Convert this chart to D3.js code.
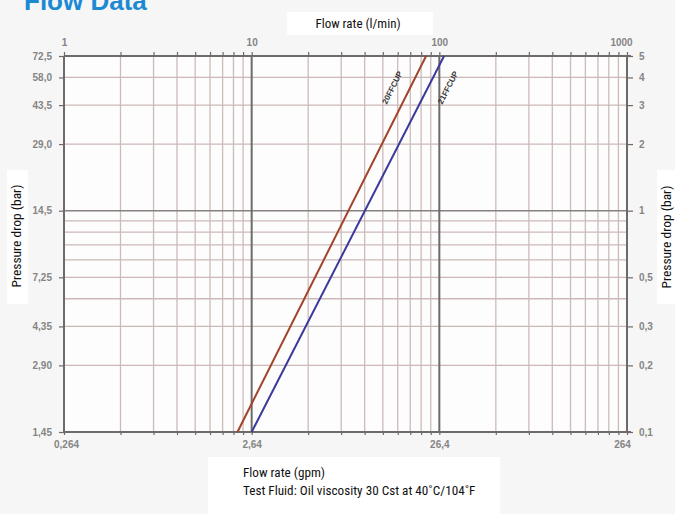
<!DOCTYPE html>
<html><head><meta charset="utf-8">
<script src="https://cdn.jsdelivr.net/npm/d3@7"></script>
<style>
html,body{margin:0;padding:0;background:#f6f6f6;}
svg{display:block;}
</style></head>
<body>
<svg id="c" width="675" height="514"></svg>
<script>
// ---- data ----
const flowMajor = [1, 10, 100, 1000];
const flowTopLabels = ["1", "10", "100", "1000"];
const gpmLabels = ["0,264", "2,64", "26,4", "264"];
const flowMinor = [2,3,4,5,6,7,8,9,20,30,40,50,60,70,80,90,200,300,400,500,600,700,800,900];
const barGrid = [0.1,0.2,0.3,0.4,0.5,0.6,0.7,0.8,0.9,1,2,3,4,5];
const barTicks = [5, 4, 3, 2, 1, 0.5, 0.3, 0.2, 0.1];
const barLabels = ["5", "4", "3", "2", "1", "0,5", "0,3", "0,2", "0,1"];
const psiLabels = ["72,5", "58,0", "43,5", "29,0", "14,5", "7,25", "4,35", "2,90", "1,45"];
const seriesNames = ["20FFCUP", "21FFCUP"];
const seriesFlow = [[8.4, 85], [10, 106]];
const seriesBar = [[0.1, 5], [0.1, 5]];
const seriesColors = ["#a3432c", "#3b3a9c"];

// ---- layout ----
const svg = d3.select("#c");
const L = 64, R = 627, T = 56, B = 432;
const x = d3.scaleLog().domain([1, 1000]).range([L, R]);
const y = d3.scaleLog().domain([0.1, 5]).range([B, T]);

// title (clipped at top, as in the source)
svg.append("text").attr("x", 24).attr("y", 10)
  .attr("font-family", "Liberation Sans, Arial, sans-serif").attr("font-weight", "bold")
  .attr("font-size", 26).attr("fill", "#1b8ad3").text("Flow Data");

// plot background
svg.append("rect").attr("x", L).attr("y", T).attr("width", R - L).attr("height", B - T).attr("fill", "#fdfdfd");

const grid = svg.append("g");
grid.selectAll("line.vm").data(flowMinor).join("line")
  .attr("x1", d => x(d)).attr("x2", d => x(d)).attr("y1", T).attr("y2", B)
  .attr("stroke", "#cbbcba").attr("stroke-width", 1.3);
grid.selectAll("line.h").data(barGrid).join("line")
  .attr("x1", L).attr("x2", R).attr("y1", d => y(d)).attr("y2", d => y(d))
  .attr("stroke", d => (d === 1 ? "#8a8080" : "#cbb9b7")).attr("stroke-width", d => (d === 1 ? 1.6 : 1.3));
grid.selectAll("line.vM").data(flowMajor).join("line")
  .attr("x1", d => x(d)).attr("x2", d => x(d)).attr("y1", T).attr("y2", B)
  .attr("stroke", "#6f6a6a").attr("stroke-width", 2);
grid.selectAll("line.hb").data([0.1, 5]).join("line")
  .attr("x1", L).attr("x2", R + 4).attr("y1", d => y(d)).attr("y2", d => y(d))
  .attr("stroke", "#6f6a6a").attr("stroke-width", 2);

const tickFont = "Liberation Sans, Arial, sans-serif";
function styleAxis(g) {
  g.select(".domain").remove();
  g.selectAll(".tick line").attr("stroke", "#6f6a6a").attr("stroke-width", 1.2);
  g.selectAll(".tick text").attr("fill", "#858585").attr("font-family", tickFont)
    .attr("font-size", 10).attr("font-weight", "bold");
}
const allFlow = flowMajor.concat(flowMinor);
svg.append("g").attr("transform", `translate(0,${T})`)
  .call(d3.axisTop(x).tickValues(allFlow).tickSize(4).tickPadding(6)
    .tickFormat(d => { const i = flowMajor.indexOf(d); return i >= 0 ? flowTopLabels[i] : ""; }))
  .call(styleAxis)
  .call(g => g.selectAll(".tick text").attr("dx", d => d === 1000 ? -6 : 0));
svg.append("g").attr("transform", `translate(0,${B})`)
  .call(d3.axisBottom(x).tickValues(allFlow).tickSize(3).tickPadding(6)
    .tickFormat(d => { const i = flowMajor.indexOf(d); return i >= 0 ? gpmLabels[i] : ""; }))
  .call(styleAxis)
  .call(g => g.selectAll(".tick text").attr("dx", d => d === 1 ? 2 : (d === 1000 ? -5 : 0)));
svg.append("g").attr("transform", `translate(${L},0)`)
  .call(d3.axisLeft(y).tickValues(barTicks).tickSize(5).tickPadding(7)
    .tickFormat((d, i) => psiLabels[i]))
  .call(styleAxis);
svg.append("g").attr("transform", `translate(${R},0)`)
  .call(d3.axisRight(y).tickValues(barTicks).tickSize(6).tickPadding(6)
    .tickFormat((d, i) => barLabels[i]))
  .call(styleAxis);

// series
const line = d3.line().x(d => x(d[0])).y(d => y(d[1]));
seriesFlow.forEach((fl, i) => {
  const pts = fl.map((f, j) => [f, seriesBar[i][j]]);
  svg.append("path").attr("d", line(pts)).attr("fill", "none")
    .attr("stroke", seriesColors[i]).attr("stroke-width", 2);
});
// series labels, beside each line
const labelBar = 3.6;
const labelOffset = [-18, 20];
seriesNames.forEach((n, i) => {
  const fl = seriesFlow[i], br = seriesBar[i];
  const x0 = x(fl[0]), x1 = x(fl[1]), y0 = y(br[0]), y1 = y(br[1]);
  const yy = y(labelBar);
  const xx = x0 + (x1 - x0) * (yy - y0) / (y1 - y0);
  const ang = Math.atan2(y1 - y0, x1 - x0) * 180 / Math.PI;
  svg.append("text")
    .attr("transform", `translate(${xx + labelOffset[i]},${yy}) rotate(${ang})`)
    .attr("text-anchor", "middle").attr("dy", "0.35em")
    .attr("font-family", tickFont).attr("font-weight", "bold").attr("font-size", 8)
    .attr("fill", "#333").text(n);
});

// axis title boxes
const titleFont = "'Liberation Sans Narrow', 'Roboto Condensed', 'Arial Narrow', sans-serif";
svg.append("rect").attr("x", 287).attr("y", 12).attr("width", 146).attr("height", 23).attr("fill", "#ffffff");
svg.append("text").attr("x", 358).attr("y", 28).attr("text-anchor", "middle")
  .attr("font-family", titleFont).attr("font-size", 13).attr("fill", "#111").text("Flow rate (l/min)");

svg.append("rect").attr("x", 7).attr("y", 170).attr("width", 21).attr("height", 134).attr("fill", "#ffffff");
svg.append("text").attr("transform", "translate(21,236) rotate(-90)").attr("text-anchor", "middle")
  .attr("font-family", titleFont).attr("font-size", 13.5).attr("fill", "#111").text("Pressure drop (bar)");

svg.append("rect").attr("x", 657).attr("y", 170).attr("width", 18).attr("height", 134).attr("fill", "#ffffff");
svg.append("text").attr("transform", "translate(671,237) rotate(-90)").attr("text-anchor", "middle")
  .attr("font-family", titleFont).attr("font-size", 13.5).attr("fill", "#111").text("Pressure drop (bar)");

svg.append("rect").attr("x", 208).attr("y", 457).attr("width", 292).attr("height", 57).attr("fill", "#ffffff");
svg.append("text").attr("x", 243).attr("y", 477)
  .attr("font-family", titleFont).attr("font-size", 13.2).attr("fill", "#111").text("Flow rate (gpm)");
svg.append("text").attr("x", 243).attr("y", 495)
  .attr("font-family", titleFont).attr("font-size", 13.2).attr("fill", "#111").text("Test Fluid: Oil viscosity 30 Cst at 40˚C/104˚F");
</script>
</body></html>
